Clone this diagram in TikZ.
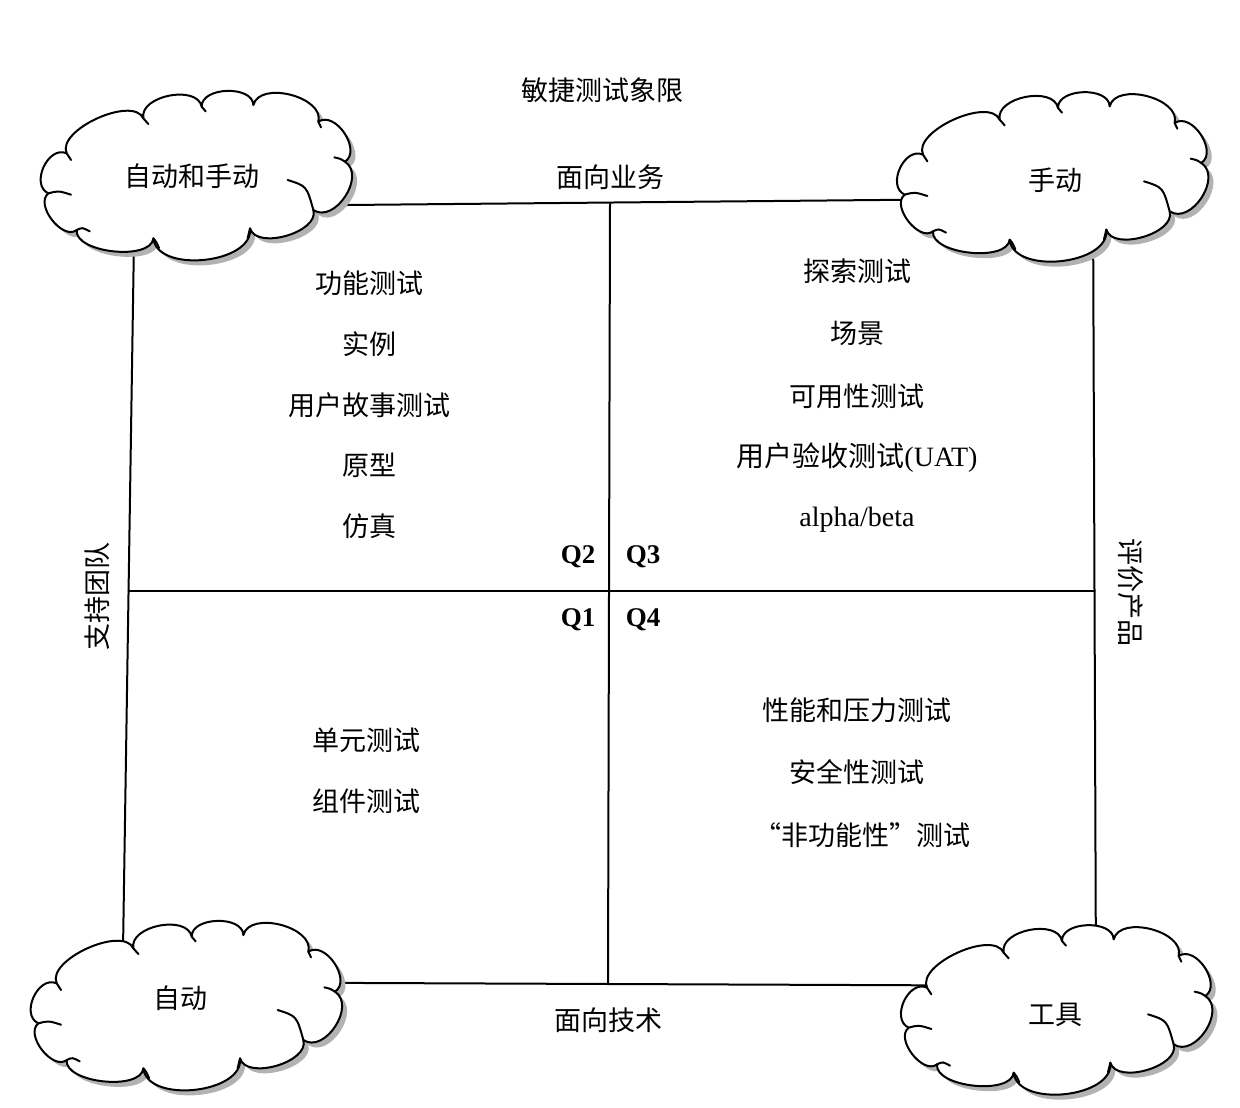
\documentclass[tikz,border=0pt]{standalone}
\usepackage{fontspec}
\setmainfont{Liberation Serif}
\newfontfamily\cjk{Noto Sans CJK SC}
\newcommand\cloudoutline{(-375,-70) .. controls (-406.9,-139.8) and (-176.9,-244.8) .. (-145,-175)
 .. controls (-158.6,-242.6) and (16.4,-277.6) .. (30,-210)
 .. controls (28.1,-270) and (183.1,-275) .. (185,-215)
 .. controls (204,-289.3) and (399,-239.3) .. (380,-165)
 .. controls (431.1,-199) and (511.1,-79) .. (460,-45)
 .. controls (524.2,-2.9) and (429.2,142.1) .. (365,100)
 .. controls (384.2,166.2) and (194.2,221.2) .. (175,155)
 .. controls (186,261) and (-104,291) .. (-115,185)
 .. controls (-122.5,253.5) and (-352.5,228.5) .. (-345,160)
 .. controls (-387.4,192.8) and (-472.4,82.8) .. (-430,50)
 .. controls (-485.8,24.5) and (-430.8,-95.5) .. (-375,-70) -- cycle}
\tikzset{
  cloudpic/.pic={
    \fill[gray!60, shift={(15,15)}] \cloudoutline;
    \filldraw[fill=white, line width=2pt, line join=round] \cloudoutline;
    \begin{scope}[line width=2pt, line cap=round]
      \draw (-375,-70) .. controls (-368,-62) .. (-362,-50);
      \draw (-430,50) .. controls (-400,42) .. (-362,54);
      \draw (-345,160) .. controls (-328,152) .. (-306,164);
      \draw (-115,185) .. controls (-106,196) .. (-98,214);
      \draw (175,155) .. controls (171,168) .. (168,184);
      \draw (288,10) .. controls (345,28) .. (365,100);
      \draw (460,-45) .. controls (446,-54) .. (428,-58);
      \draw (380,-165) .. controls (384,-158) .. (388,-148);
      \draw (30,-210) .. controls (36,-204) .. (42,-196);
      \draw (-145,-175) .. controls (-138,-168) .. (-130,-158);
    \end{scope}
  }
}
\begin{document}
\begin{tikzpicture}[x=1pt,y=-1pt,
  frame/.style={line width=2pt, line cap=round},
  lbl/.style={font=\cjk\fontsize{27}{30}\selectfont, inner sep=0pt},
  qlbl/.style={font=\bfseries\fontsize{27}{30}\selectfont, inner sep=0pt},
  mix/.style={font=\fontsize{28}{30}\selectfont, inner sep=0pt}]
\useasboundingbox[fill=white] (0,0) rectangle (1240,1108);
% frame
\coordinate (TL) at (134.5,207);
\coordinate (TR) at (1093,198);
\coordinate (BR) at (1096,986);
\coordinate (BL) at (122.5,982);
\coordinate (MT) at (610,204);
\coordinate (MB) at (608,983.5);
\coordinate (ML) at (128.5,591);
\coordinate (MR) at (1094.5,591);
\draw[frame] (TL) -- (TR) -- (BR) -- (BL) -- cycle;
\draw[frame] (MT) -- (MB);
\draw[frame] (ML) -- (MR);
% clouds
\pic[scale=0.3333] at (191.7,176.7) {cloudpic};
\pic[scale=0.3333] at (1048,178) {cloudpic};
\pic[scale=0.3333] at (181.7,1006.7) {cloudpic};
\pic[scale=0.3333] at (1052,1011) {cloudpic};
% texts
\node[lbl] (title) at (602,90) {敏捷测试象限};
\node[lbl] (biz) at (610,177) {面向业务};
\node[lbl] (tech) at (608,1020) {面向技术};
\node[lbl] (c1) at (192,176) {自动和手动};
\node[lbl] (c2) at (1055,180) {手动};
\node[lbl] (c3) at (180,998) {自动};
\node[lbl] (c4) at (1055,1015) {工具};
\node[lbl, rotate=90] (team) at (97,596) {支持团队};
\node[lbl, rotate=-90] (prod) at (1131,592) {评价产品};
% Q2
\node[lbl] (a1) at (369,283) {功能测试};
\node[lbl] (a2) at (369,344) {实例};
\node[lbl] (a3) at (369,405) {用户故事测试};
\node[lbl] (a4) at (369,465) {原型};
\node[lbl] (a5) at (369,526) {仿真};
% Q3
\node[lbl] (b1) at (857,271) {探索测试};
\node[lbl] (b2) at (857,333) {场景};
\node[lbl] (b3) at (857,396) {可用性测试};
\node[mix] (b4) at (857,458) {{\cjk 用户验收测试}(UAT)};
\node[mix] (b5) at (857,520) {alpha/beta};
% Q1
\node[lbl] (d1) at (366,740) {单元测试};
\node[lbl] (d2) at (366,801) {组件测试};
% Q4
\node[lbl] (e1) at (857,710) {性能和压力测试};
\node[lbl] (e2) at (857,772) {安全性测试};
\node[lbl] (e3) at (862,835) {“非功能性”测试};
% quadrant labels
\node[qlbl] (q2) at (578,557) {Q2};
\node[qlbl] (q3) at (643,557) {Q3};
\node[qlbl] (q1) at (578,620) {Q1};
\node[qlbl] (q4) at (643,620) {Q4};
\end{tikzpicture}
\end{document}
